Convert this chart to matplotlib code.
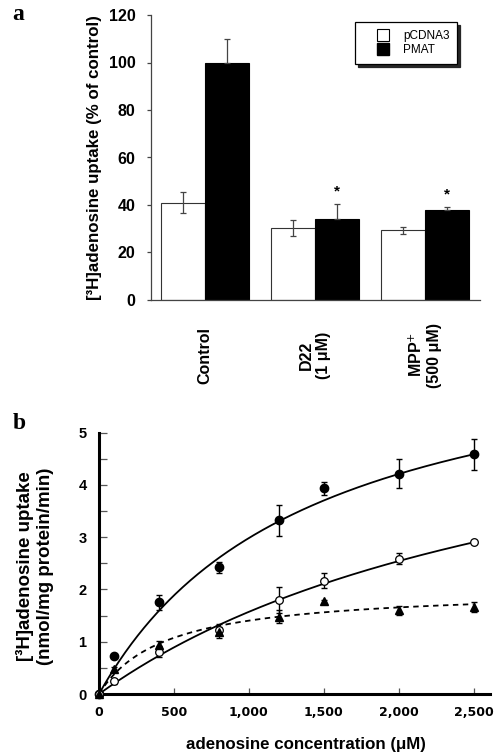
import numpy as np
import matplotlib
matplotlib.use("Agg")
import matplotlib.pyplot as plt
from matplotlib.lines import Line2D

plt.rcParams['font.family'] = ['Liberation Sans', 'DejaVu Sans']

# panel a
groups = ["Control", "D22\n(1 \u03bcM)", "MPP$^{+}$\n(500 \u03bcM)"]
pcdna3 = [41.0, 30.3, 29.3]
pcdna3_err = [4.4, 3.2, 1.4]
pmat = [100.0, 34.1, 38.1]
pmat_err = [9.8, 6.3, 1.0]
star_y = [None, 45.7, 44.3]

# panel b
conc = [0, 100, 400, 800, 1200, 1500, 2000, 2500]
pmat_v = [0, 0.73, 1.75, 2.42, 3.32, 3.93, 4.21, 4.58]
pmat_v_err = [0, 0.03, 0.15, 0.10, 0.30, 0.12, 0.28, 0.30]
vec_v = [0, 0.24, 0.81, 1.23, 1.80, 2.17, 2.59, 2.90]
vec_v_err = [0, 0.05, 0.10, 0.10, 0.25, 0.15, 0.10, 0.02]
diff_v = [0, 0.47, 0.94, 1.18, 1.48, 1.77, 1.60, 1.66]
diff_v_err = [0, 0.05, 0.08, 0.10, 0.12, 0.03, 0.08, 0.10]

# Michaelis-Menten fits (Vmax, Km)
fit_pmat = (7.14, 1395)
fit_vec = (6.65, 3233)
fit_diff = (2.02, 440)

fig = plt.figure(figsize=(4.94, 7.56), dpi=100)

# ---------- panel a ----------
ax = fig.add_axes([151/494, 1-300/756, 329/494, 285/756])
x = np.arange(len(groups))
w = 0.4
ax.bar(x - w/2, pcdna3, w, color='white', edgecolor='#333333', linewidth=0.8)
ax.bar(x + w/2, pmat, w, color='black', edgecolor='black', linewidth=0.8)
ax.errorbar(x - w/2, pcdna3, yerr=pcdna3_err, fmt='none', ecolor='#444444',
            elinewidth=0.9, capsize=2.3, capthick=0.9)
# only the upper half shows above the black bars
ax.errorbar(x + w/2, pmat, yerr=[[0]*len(pmat), pmat_err], fmt='none', ecolor='#444444',
            elinewidth=0.9, capsize=2.3, capthick=0.9)
for i, s in enumerate(star_y):
    if s is not None:
        ax.text(x[i] + w/2, s, '*', ha='center', va='center', fontsize=11, fontweight='bold')

ax.set_xlim(-0.49, 2.5)
ax.set_ylim(0, 120)
ax.set_yticks(range(0, 121, 20))
ax.set_xticks([])
for sp in ['top', 'right']:
    ax.spines[sp].set_visible(False)
for sp in ['left', 'bottom']:
    ax.spines[sp].set_color('#444444')
    ax.spines[sp].set_linewidth(0.9)
ax.tick_params(axis='y', direction='out', length=3, width=0.9, color='#444444',
               pad=8, labelsize=11.5)
for lab in ax.get_yticklabels():
    lab.set_fontweight('bold')
ax.set_ylabel('[\u00b3H]adenosine uptake (% of control)', fontsize=12.2, fontweight='bold')
ax.yaxis.set_label_coords(-0.149, 0.5)
for i, g in enumerate(groups):
    ax.text(x[i], -0.193, g, transform=ax.get_xaxis_transform(), rotation=90,
            ha='center', va='center', fontsize=11.5, fontweight='bold',
            multialignment='center')

handles = [Line2D([], [], marker='s', linestyle='none', markersize=8,
                  markerfacecolor='white', markeredgecolor='black', markeredgewidth=0.8),
           Line2D([], [], marker='s', linestyle='none', markersize=8,
                  markerfacecolor='black', markeredgecolor='black')]
leg = ax.legend(handles, ['pCDNA3', 'PMAT'], loc='upper right',
                bbox_to_anchor=(0.93, 0.975), fontsize=8.5, frameon=True,
                fancybox=False, shadow={'color': '0.15', 'alpha': 1},
                handlelength=3.4, borderpad=0.65, labelspacing=0.2,
                handletextpad=0.0, borderaxespad=0)
leg.get_frame().set_edgecolor('black')
leg.get_frame().set_linewidth(0.9)

fig.text(12/494, 1-20/756, 'a', family='Liberation Serif', fontsize=17,
         fontweight='bold', va='baseline')

# ---------- panel b ----------
bx = fig.add_axes([99/494, 1-694/756, 391/494, 261.5/756])
s = np.linspace(0, 2500, 300)
for (vm, km), ls in [(fit_pmat, '-'), (fit_vec, '-'), (fit_diff, (0, (3, 2.5)))]:
    bx.plot(s, vm * s / (km + s), color='black', linewidth=1.3, linestyle=ls)

ek = dict(fmt='none', ecolor='black', elinewidth=1.0, capsize=2.5, capthick=1.0)
bx.errorbar(conc, pmat_v, yerr=pmat_v_err, **ek)
bx.errorbar(conc, vec_v, yerr=vec_v_err, **ek)
bx.errorbar(conc, diff_v, yerr=diff_v_err, **ek)
bx.plot(conc, pmat_v, 'o', color='black', markersize=6, clip_on=False, zorder=5)
bx.plot(conc, vec_v, 'o', markerfacecolor='white', markeredgecolor='black',
        markeredgewidth=0.9, markersize=5.5, clip_on=False, zorder=5)
bx.plot(conc, diff_v, '^', color='black', markersize=6, clip_on=False, zorder=5)

bx.set_xlim(0, 2610)
bx.set_ylim(0, 5)
bx.set_xticks(range(0, 2501, 500))
bx.set_xticklabels(['0', '500', '1,000', '1,500', '2,000', '2,500'],
                   family='DejaVu Sans', fontweight='bold', fontsize=9)
bx.set_yticks(range(0, 6))
bx.set_yticks(np.arange(0.5, 5, 1), minor=True)
for sp in ['top', 'right']:
    bx.spines[sp].set_visible(False)
for sp in ['left', 'bottom']:
    bx.spines[sp].set_linewidth(2.2)
bx.tick_params(axis='y', which='both', direction='in', length=6, width=0.9,
               color='#555555', pad=9, labelsize=10.5)
bx.tick_params(axis='x', direction='in', length=4.5, width=0.9, color='#555555', pad=9)
for lab in bx.get_yticklabels():
    lab.set_fontweight('bold')
bx.set_ylabel('[\u00b3H]adenosine uptake\n(nmol/mg protein/min)', fontsize=13.5,
              fontweight='bold', linespacing=1.25)
bx.yaxis.set_label_coords(-0.115, 0.49)
bx.set_xlabel('adenosine concentration (\u03bcM)', fontsize=12.2, fontweight='bold')
bx.xaxis.set_label_coords(0.529, -0.164)

fig.text(13/494, 1-429/756, 'b', family='Liberation Serif', fontsize=17,
         fontweight='bold', va='baseline')

fig.savefig('out.png', dpi=100)
